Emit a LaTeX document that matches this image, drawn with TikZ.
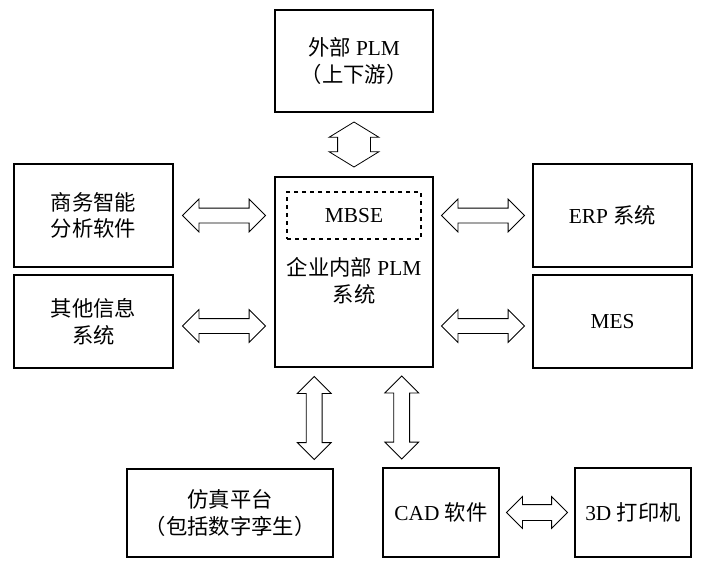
\documentclass[tikz,border=0pt]{standalone}
\usepackage{fontspec}
\setmainfont{Liberation Serif}
\newfontfamily\cjk{Noto Sans CJK SC}
\usetikzlibrary{shapes.arrows,calc}

\begin{document}
\begin{tikzpicture}[x=0.75pt,y=-0.75pt]
\useasboundingbox (0,0) rectangle (705,568);
\begin{scope}[every node/.style={draw,line width=0.8pt,align=center,inner sep=0pt,
              font=\fontsize{16}{20}\selectfont}]
    \node[minimum width=118.5pt,minimum height=76.5pt] (ext) at (354,61) {{\cjk 外部} PLM\\{\cjk （上下游）}};
    \node[minimum width=118.5pt,minimum height=142.5pt] (plm) at (354,272) {};
    \node[dashed,minimum width=100.5pt,minimum height=35.25pt] (mbse) at (354,215.5) {MBSE};
    \node[draw=none] (plmtext) at (354,281) {{\cjk 企业内部} PLM\\{\cjk 系统}};
    \node[minimum width=119.25pt,minimum height=77.25pt] (bi) at (93.5,215.5) {\cjk 商务智能\\\cjk 分析软件};
    \node[minimum width=119.25pt,minimum height=69.75pt] (other) at (93.5,321.5) {\cjk 其他信息\\\cjk 系统};
    \node[minimum width=119.25pt,minimum height=77.25pt] (erp) at (612.5,215.5) {ERP {\cjk 系统}};
    \node[minimum width=119.25pt,minimum height=69.75pt] (mes) at (612.5,321.5) {MES};
    \node[minimum width=154.5pt,minimum height=66pt] (sim) at (230,513) {\cjk 仿真平台\\\cjk （包括数字孪生）};
    \node[minimum width=87pt,minimum height=66.75pt] (cad) at (441,512.5) {CAD {\cjk 软件}};
    \node[minimum width=87pt,minimum height=66.75pt] (print) at (633,512.5) {3D {\cjk 打印机}};
\end{scope}

% foot points of the two arrows below the PLM box
\coordinate (s1) at ($(plm.south west)!0.25!(plm.south east)$);
\coordinate (s2) at ($(plm.south west)!0.8!(plm.south east)$);

\begin{scope}[every node/.style={double arrow,draw,line width=0.6pt,inner sep=0pt,
              text height=10.5pt,text depth=0pt,minimum width=0pt,
              double arrow head extend=6.75pt}]
    \node[minimum height=33.75pt,text height=24pt,double arrow head extend=6.4pt,
          double arrow tip angle=117,rotate=90] (aext) at ($(ext.south)!0.5!(plm.north)$) {};
    \node[minimum height=62.25pt] (abi) at ($(bi.east)!0.5!(plm.west |- bi.east)$) {};
    \node[minimum height=62.25pt,yshift=-3.4pt] (aother) at ($(other.east)!0.5!(plm.west |- other.east)$) {};
    \node[minimum height=62.25pt] (aerp) at ($(erp.west)!0.5!(plm.east |- erp.west)$) {};
    \node[minimum height=62.25pt,yshift=-3.4pt] (ames) at ($(mes.west)!0.5!(plm.east |- mes.west)$) {};
    \node[minimum height=62.25pt,text height=11.25pt,rotate=90] (asim) at ($(s1)!0.5!(s1 |- sim.north)$) {};
    \node[minimum height=62.25pt,text height=11.25pt,rotate=90] (acad) at ($(s2)!0.5!(s2 |- cad.north)$) {};
    \node[minimum height=45.75pt,text height=11.25pt,double arrow head extend=6pt] (aprint) at ($(cad.east)!0.5!(print.west)$) {};
\end{scope}
\end{tikzpicture}
\end{document}
